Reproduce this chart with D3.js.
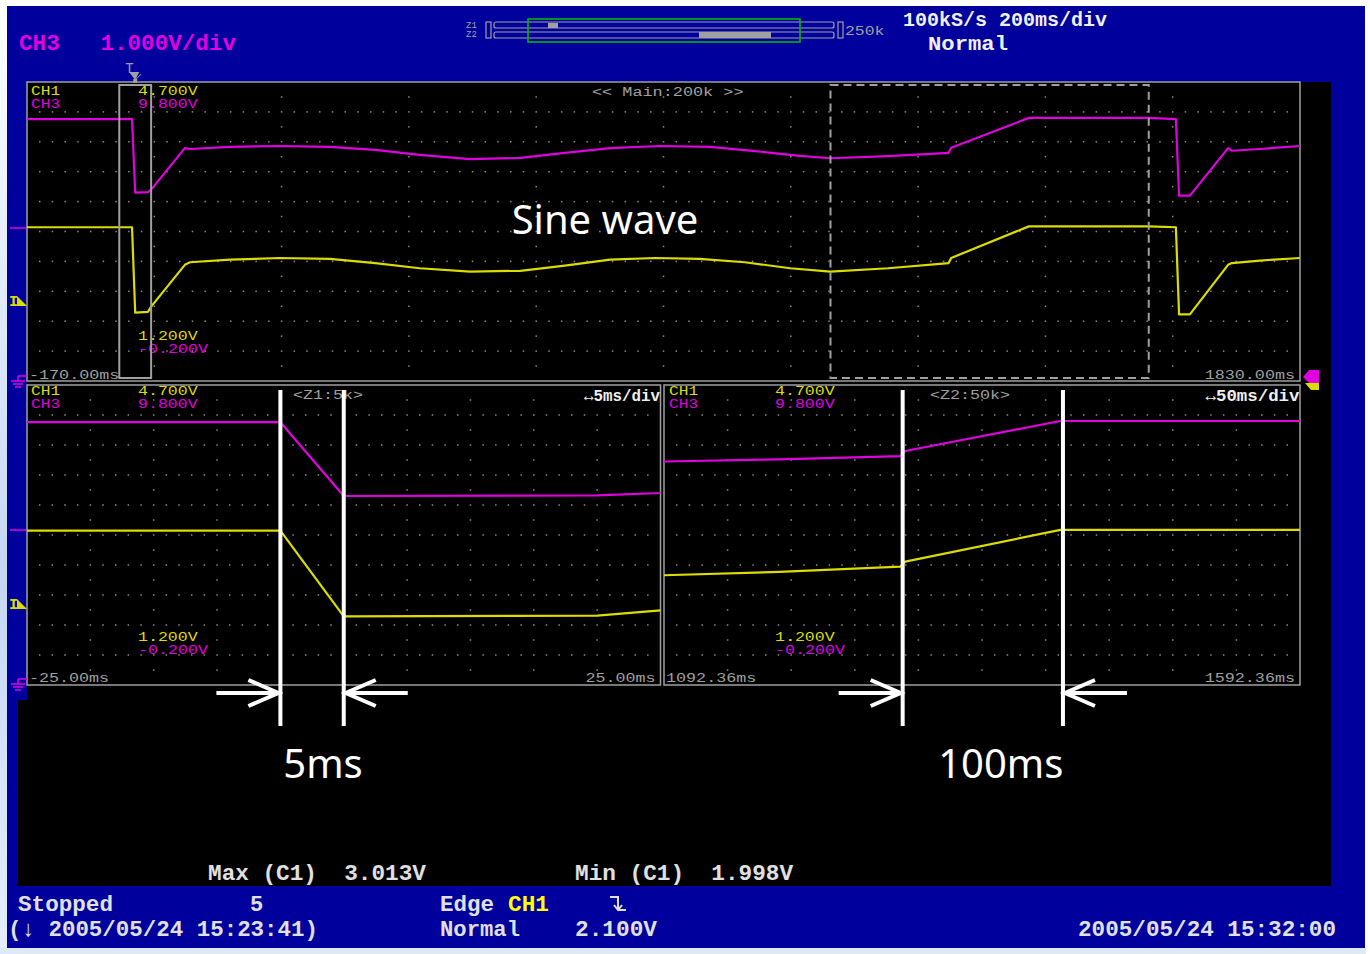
<!DOCTYPE html>
<html>
<head>
<meta charset="utf-8">
<script src="https://cdn.jsdelivr.net/npm/d3@7/dist/d3.min.js"></script>
<style>
    body { margin: 0; background: #fff; }
    svg text { font-family: "Liberation Mono", "DejaVu Sans Mono", monospace; }
    svg text.big { font-weight: bold; }
    svg text.note { font-family: "Noto Sans", "DejaVu Sans", sans-serif; fill: #fff; }
</style>
</head>
<body>
<div id="chart"></div>
<script>
// CH1 (yellow) samples: time in ms, level in V
var ch1Time  = [-170, -5, 0, 20, 25, 78, 86, 149, 227, 306, 377, 447, 526, 605, 675, 746, 817, 887, 958, 1029, 1092, 1183, 1278, 1282, 1404, 1592, 1635, 1640, 1657, 1717, 1723, 1767, 1830];
var ch1Volts = [3.0, 3.0, 2.0, 2.01, 2.07, 2.56, 2.59, 2.62, 2.64, 2.63, 2.58, 2.52, 2.48, 2.49, 2.55, 2.62, 2.64, 2.63, 2.59, 2.52, 2.48, 2.52, 2.58, 2.64, 3.01, 3.01, 3.0, 1.98, 1.98, 2.56, 2.58, 2.61, 2.64];

// CH3 (magenta) samples
var ch3Time  = [-170, -5, 0, 20, 25, 78, 86, 149, 227, 306, 377, 447, 526, 605, 675, 746, 824, 903, 974, 1044, 1092, 1183, 1278, 1282, 1404, 1592, 1635, 1640, 1657, 1717, 1723, 1767, 1830];
var ch3Volts = [8.56, 8.56, 6.1, 6.12, 6.2, 7.59, 7.56, 7.63, 7.66, 7.63, 7.53, 7.36, 7.22, 7.26, 7.43, 7.59, 7.66, 7.63, 7.49, 7.33, 7.25, 7.32, 7.43, 7.6, 8.6, 8.6, 8.56, 6.0, 6.0, 7.59, 7.5, 7.56, 7.66];

// vertical ranges (bottom, top) per channel
var ch1Range = [1.2, 4.7];
var ch3Range = [-0.2, 9.8];
var ch1RangeLabels = ["4.700V", "1.200V"];
var ch3RangeLabels = ["9.800V", "-0.200V"];

// time windows of the three panels
var mainWindow = [-170, 1830];
var z1Window = [-25, 25];
var z2Window = [1092.36, 1592.36];
var mainTimeLabels = ["-170.00ms", "1830.00ms"];
var z1TimeLabels = ["-25.00ms", "25.00ms"];
var z2TimeLabels = ["1092.36ms", "1592.36ms"];
var panelTitles = ["<< Main:200k >>", "<Z1:5k>", "<Z2:50k>"];
var divLabels = ["", "\u21945ms/div", "\u219450ms/div"];

// annotation cursors (ms) and their labels
var z1Marks = [-5, 0];
var z2Marks = [1280, 1406];
var markLabels = ["5ms", "100ms"];

// measurements / status
var measureNames = ["Max (C1)", "Min (C1)"];
var measureValues = ["3.013V", "1.998V"];

var BLUE = "#00009c", YEL = "#dcdc00", MAG = "#e000e0", GRAY = "#a0a0a0", LIGHT = "#e0e0e0";

var svg = d3.select("#chart").append("svg")
    .attr("width", 1370)
    .attr("height", 954);

var defs = svg.append("defs");
var edge = defs.append("linearGradient").attr("id", "edge").attr("x1", 0).attr("y1", 0).attr("x2", 0).attr("y2", 1);
edge.append("stop").attr("offset", "0%").attr("stop-color", "#ffffff");
edge.append("stop").attr("offset", "60%").attr("stop-color", "#c6d6f2");
edge.append("stop").attr("offset", "100%").attr("stop-color", "#e6eefa");

svg.append("rect").attr("width", 1370).attr("height", 954).attr("fill", "#fff");
svg.append("rect").attr("x", 0).attr("y", 6).attr("width", 8).attr("height", 948).attr("fill", "url(#edge)");
svg.append("rect").attr("x", 0).attr("y", 947).attr("width", 1366).attr("height", 7).attr("fill", "#dfe8f7");
svg.append("rect").attr("x", 7).attr("y", 6).attr("width", 1358).attr("height", 942).attr("fill", BLUE);
svg.append("rect").attr("x", 27).attr("y", 82).attr("width", 1304).attr("height", 804).attr("fill", "#000");
svg.append("rect").attr("x", 18).attr("y", 700).attr("width", 20).attr("height", 186).attr("fill", "#000");

function label(x, y, s, color, size, opts) {
    opts = opts || {};
    var t = svg.append("text")
        .attr("x", x).attr("y", y)
        .attr("fill", color)
        .attr("font-size", size)
        .attr("letter-spacing", opts.ls !== undefined ? opts.ls : 0)
        .attr("text-anchor", opts.anchor || "start")
        .attr("class", opts.cls || null)
        .style("white-space", "pre")
        .text(s);
    if (opts.len) t.attr("textLength", opts.len).attr("lengthAdjust", "spacingAndGlyphs");
    return t;
}

// small scope text: bitmap-like, about 10.2px per character
function small(x, y, s, color, anchor) {
    return label(x, y, s, color, 12.5, { len: s.length * 10.2 - 1.5, anchor: anchor });
}

var panels = [
    { name: "main", left: 27, right: 1300, top: 82, bottom: 381, win: mainWindow, perDiv: 10, times: mainTimeLabels,
      head: [13, 26], foot: [-41, -28], timeY: -2, titleX: 592 },
    { name: "z1", left: 27, right: 660.5, top: 385, bottom: 685, win: z1Window, perDiv: 5, times: z1TimeLabels,
      head: [10, 23], foot: [-44, -31], timeY: -3, titleX: 293 },
    { name: "z2", left: 664, right: 1300, top: 385, bottom: 685, win: z2Window, perDiv: 5, times: z2TimeLabels,
      head: [10, 23], foot: [-44, -31], timeY: -3, titleX: 930 }
];

var ch1 = ch1Time.map(function (t, i) { return { t: t, v: ch1Volts[i] }; });
var ch3 = ch3Time.map(function (t, i) { return { t: t, v: ch3Volts[i] }; });

panels.forEach(function (p, pi) {
    var w = p.right - p.left, h = p.bottom - p.top;
    p.x = d3.scaleLinear().domain(p.win).range([p.left, p.right]);
    p.y1 = d3.scaleLinear().domain(ch1Range).range([p.bottom, p.top]);
    p.y3 = d3.scaleLinear().domain(ch3Range).range([p.bottom, p.top]);

    var g = svg.append("g");
    var dots = [];
    var k, i;
    for (k = 1; k < 10; k++) {
        for (i = 1; i < 10 * p.perDiv; i++) dots.push([p.left + i * w / (10 * p.perDiv), p.top + k * h / 10]);
    }
    for (k = 1; k < 10; k++) {
        for (i = 1; i < 20; i += 2) dots.push([p.left + k * w / 10, p.top + i * h / 20]);
    }
    g.selectAll("rect.dot").data(dots).enter().append("rect")
        .attr("class", "dot")
        .attr("x", function (d) { return d[0] - 0.75; })
        .attr("y", function (d) { return d[1] - 0.75; })
        .attr("width", 1.5).attr("height", 1.5)
        .attr("fill", "#8a8a8a");

    g.append("rect")
        .attr("x", p.left).attr("y", p.top).attr("width", w).attr("height", h)
        .attr("fill", "none").attr("stroke", GRAY).attr("stroke-width", 1.5);

    defs.append("clipPath").attr("id", "clip-" + p.name)
        .append("rect").attr("x", p.left).attr("y", p.top).attr("width", w).attr("height", h);

    var traces = g.append("g").attr("clip-path", "url(#clip-" + p.name + ")");
    var line1 = d3.line().x(function (d) { return p.x(d.t); }).y(function (d) { return p.y1(d.v); });
    var line3 = d3.line().x(function (d) { return p.x(d.t); }).y(function (d) { return p.y3(d.v); });
    traces.append("path").attr("d", line3(ch3)).attr("fill", "none").attr("stroke", MAG).attr("stroke-width", 2.2).attr("stroke-linejoin", "round");
    traces.append("path").attr("d", line1(ch1)).attr("fill", "none").attr("stroke", YEL).attr("stroke-width", 2.2).attr("stroke-linejoin", "round");

    var lx = p.left + 4, vx = p.left + 111;
    small(lx + (pi === 2 ? 1 : 0), p.top + p.head[0], "CH1", YEL);
    small(lx + (pi === 2 ? 1 : 0), p.top + p.head[1], "CH3", MAG);
    small(vx, p.top + p.head[0], ch1RangeLabels[0], YEL);
    small(vx, p.top + p.head[1], ch3RangeLabels[0], MAG);
    small(vx, p.bottom + p.foot[0], ch1RangeLabels[1], YEL);
    small(vx, p.bottom + p.foot[1], ch3RangeLabels[1], MAG);
    small(p.left + 2, p.bottom + p.timeY, p.times[0], GRAY);
    small(p.right - 5, p.bottom + p.timeY, p.times[1], GRAY, "end");
    small(p.titleX, p.top + 14, panelTitles[pi], GRAY);
    if (divLabels[pi]) {
        label(p.right - 0.5, p.top + 16, divLabels[pi], "#f0f0f0", 17, { anchor: "end", cls: "big", len: pi === 1 ? 76 : 94 });
    }
});

// zoom windows drawn on the main panel
var mp = panels[0];
svg.append("rect")
    .attr("x", mp.x(z1Window[0])).attr("y", mp.top + 3)
    .attr("width", mp.x(z1Window[1]) - mp.x(z1Window[0])).attr("height", mp.bottom - mp.top - 6)
    .attr("fill", "none").attr("stroke", GRAY).attr("stroke-width", 2);
svg.append("rect")
    .attr("x", mp.x(z2Window[0])).attr("y", mp.top + 3)
    .attr("width", mp.x(z2Window[1]) - mp.x(z2Window[0])).attr("height", mp.bottom - mp.top - 6)
    .attr("fill", "none").attr("stroke", GRAY).attr("stroke-width", 2).attr("stroke-dasharray", "8,5");

// trigger mark above the main panel
var tx = mp.x(0);
label(tx - 10, 73, "T", GRAY, 14);
svg.append("path").attr("d", "M" + (tx - 6) + ",72 L" + (tx + 4) + ",72 L" + tx + ",80 Z").attr("fill", GRAY);
svg.append("line").attr("x1", tx).attr("x2", tx + 6).attr("y1", 80).attr("y2", 74).attr("stroke", GRAY);
svg.append("rect").attr("x", tx - 2).attr("y", 79).attr("width", 4).attr("height", 4).attr("fill", GRAY);

// left side markers
[[mp, 301], [panels[1], 604]].forEach(function (m) {
    label(9, m[1] + 5, "I", YEL, 15, { cls: "big" });
    svg.append("path").attr("d", "M17," + (m[1] - 5) + " L27," + (m[1] + 5) + " L17," + (m[1] + 5) + " Z").attr("fill", YEL);
});
[228, 530].forEach(function (y) {
    svg.append("line").attr("x1", 10).attr("x2", 26).attr("y1", y).attr("y2", y).attr("stroke", MAG).attr("stroke-width", 1.5);
});
[381, 684].forEach(function (y) {
    var gg = svg.append("g").attr("stroke", MAG).attr("stroke-width", 1.5);
    gg.append("line").attr("x1", 18).attr("x2", 18).attr("y1", y - 5).attr("y2", y);
    gg.append("line").attr("x1", 18).attr("x2", 27).attr("y1", y - 5).attr("y2", y - 5);
    gg.append("line").attr("x1", 11).attr("x2", 25).attr("y1", y).attr("y2", y);
    gg.append("line").attr("x1", 13).attr("x2", 23).attr("y1", y + 3).attr("y2", y + 3);
    gg.append("line").attr("x1", 15).attr("x2", 21).attr("y1", y + 6).attr("y2", y + 6);
});
// right side markers
svg.append("path").attr("d", "M1303,377 L1309,370 L1319,370 L1319,383 L1309,383 Z").attr("fill", MAG);
svg.append("path").attr("d", "M1305,383 L1319,383 L1319,390 L1311,390 Z").attr("fill", YEL);

// header
label(19, 50, "CH3   1.000V/div", MAG, 22, { cls: "big", len: 217 });
label(903, 26, "100kS/s 200ms/div", "#f0f0f0", 20, { cls: "big", len: 204 });
label(928, 50, "Normal", "#f0f0f0", 20, { cls: "big", len: 80 });

// zoom position bar
var bar = svg.append("g").attr("fill", "none").attr("stroke", GRAY).attr("stroke-width", 1.2);
label(466, 28, "Z1", GRAY, 9);
label(466, 37, "Z2", GRAY, 9);
bar.append("rect").attr("x", 486).attr("y", 22).attr("width", 5).attr("height", 16);
bar.append("rect").attr("x", 494).attr("y", 22).attr("width", 340).attr("height", 6).attr("rx", 2);
bar.append("rect").attr("x", 494).attr("y", 32).attr("width", 340).attr("height", 6).attr("rx", 2);
bar.append("rect").attr("x", 838).attr("y", 22).attr("width", 5).attr("height", 16);
svg.append("rect").attr("x", 548).attr("y", 23).attr("width", 10).attr("height", 5).attr("fill", GRAY);
svg.append("rect").attr("x", 699).attr("y", 32).attr("width", 72).attr("height", 6).attr("fill", GRAY);
svg.append("rect").attr("x", 528).attr("y", 19).attr("width", 272).attr("height", 23).attr("fill", "none").attr("stroke", "#00c000").attr("stroke-width", 1.5);
small(845, 35, "250k", GRAY);

// annotation cursors and arrows
function cursorPair(p, marks, text, shift) {
    var xa = p.x(marks[0]), xb = p.x(marks[1]);
    var ann = svg.append("g").attr("stroke", "#fff").attr("stroke-width", 4).attr("fill", "none");
    [xa, xb].forEach(function (x) {
        ann.append("line").attr("x1", x).attr("x2", x).attr("y1", 390).attr("y2", 726);
    });
    var ay = 693;
    ann.append("line").attr("x1", xa - 64).attr("x2", xa - 2).attr("y1", ay).attr("y2", ay);
    ann.append("path").attr("d", "M" + (xa - 32) + "," + (ay - 13) + " L" + (xa - 2) + "," + ay + " L" + (xa - 32) + "," + (ay + 13));
    ann.append("line").attr("x1", xb + 64).attr("x2", xb + 2).attr("y1", ay).attr("y2", ay);
    ann.append("path").attr("d", "M" + (xb + 32) + "," + (ay - 13) + " L" + (xb + 2) + "," + ay + " L" + (xb + 32) + "," + (ay + 13));
    svg.append("text").attr("class", "note").attr("x", (xa + xb) / 2 + shift).attr("y", 778)
        .attr("text-anchor", "middle").attr("font-size", 40).text(text);
}
cursorPair(panels[1], z1Marks, markLabels[0], 11);
cursorPair(panels[2], z2Marks, markLabels[1], 18);

svg.append("text").attr("class", "note").attr("x", 605).attr("y", 234)
    .attr("text-anchor", "middle").attr("font-size", 40).text("Sine wave");

// measurements
label(208, 880, measureNames[0] + "  " + measureValues[0], LIGHT, 22, { cls: "big", len: 218 });
label(575, 880, measureNames[1] + "  " + measureValues[1], LIGHT, 22, { cls: "big", len: 218 });

// status line
label(18, 911, "Stopped", LIGHT, 22, { cls: "big", len: 95 });
label(250, 911, "5", LIGHT, 22, { cls: "big" });
label(8, 936, "(\u2193 2005/05/24 15:23:41)", LIGHT, 22, { cls: "big", len: 310 });
label(440, 911, "Edge", LIGHT, 22, { cls: "big", len: 54 });
label(508, 911, "CH1", "#ffff00", 22, { cls: "big", len: 41 });
svg.append("path").attr("d", "M610,897 H618 V910 M614,905 L618,910 L622,905 M618,910 H626")
    .attr("fill", "none").attr("stroke", LIGHT).attr("stroke-width", 2);
label(440, 936, "Normal", LIGHT, 22, { cls: "big", len: 80 });
label(575, 936, "2.100V", LIGHT, 22, { cls: "big", len: 82 });
label(1336, 936, "2005/05/24 15:32:00", LIGHT, 22, { cls: "big", anchor: "end", len: 258 });
</script>
</body>
</html>
